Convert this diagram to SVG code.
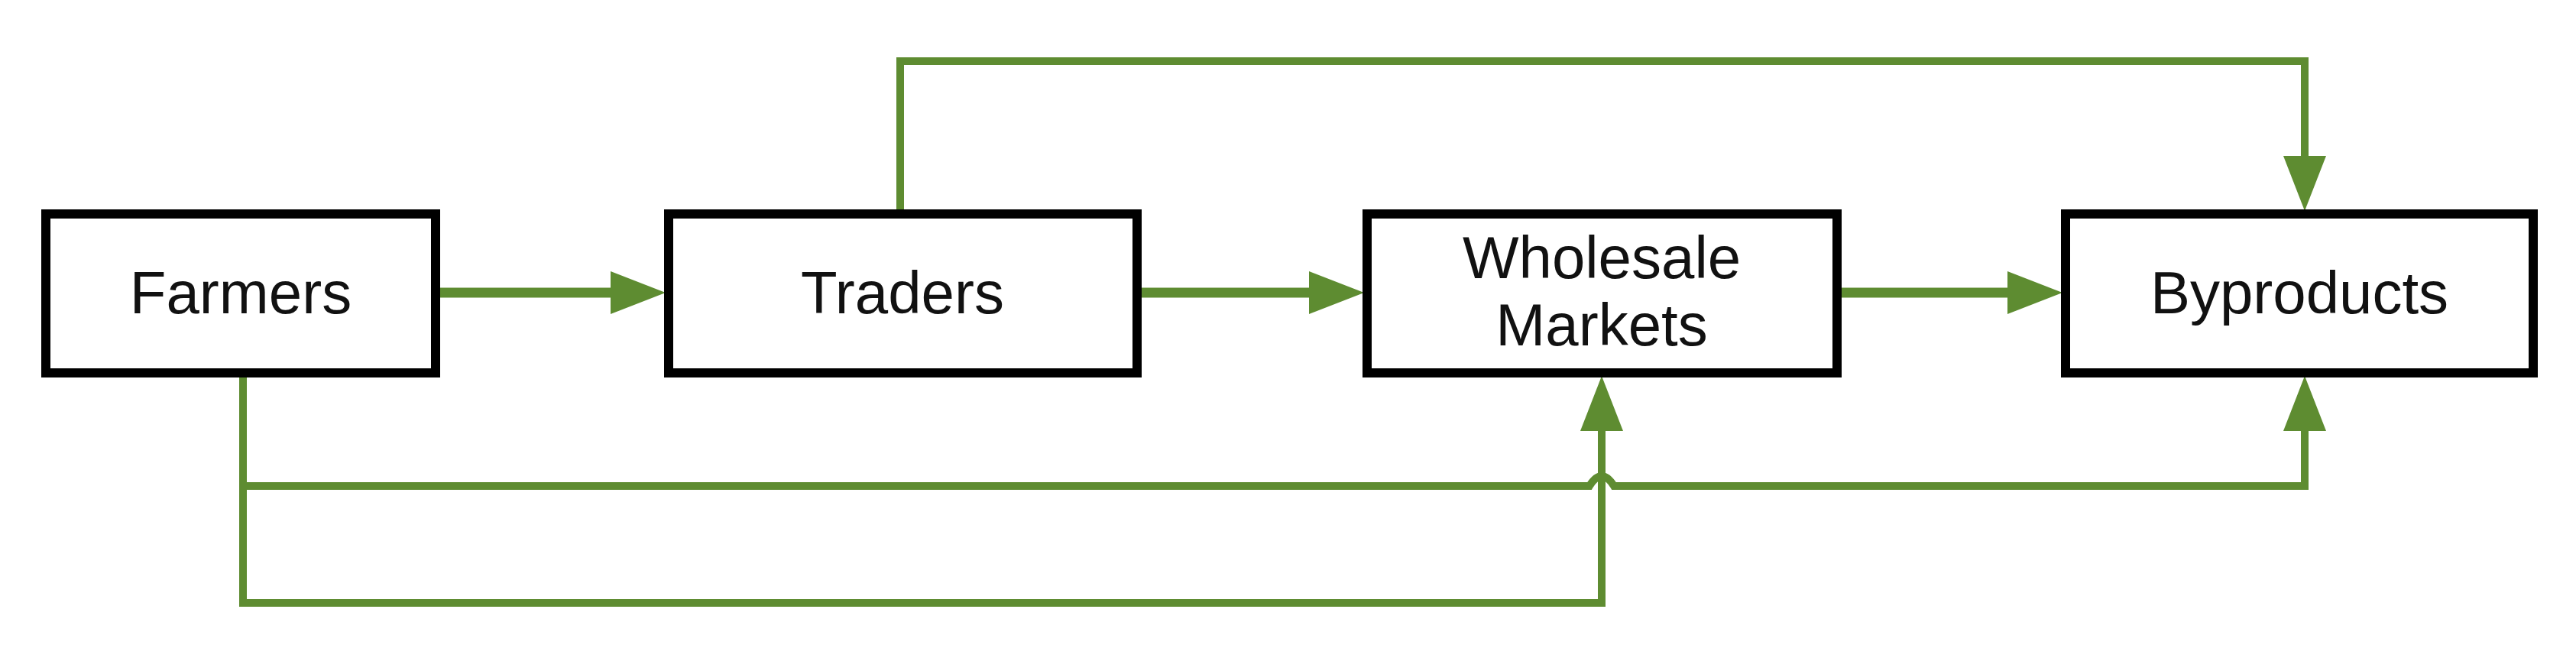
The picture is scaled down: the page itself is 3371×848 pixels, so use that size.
<svg xmlns="http://www.w3.org/2000/svg" width="3371" height="848" viewBox="0 0 3371 848">
<style>
.box{fill:#fff;stroke:#000;stroke-width:12}
.t{font-family:"Liberation Sans",Arial,sans-serif;font-size:78px;text-anchor:middle;fill:#111}
.c{fill:none;stroke:#5E8C31;stroke-width:10;stroke-linejoin:miter}
.m{stroke-width:13}
</style>
<defs>
<marker id="a" markerUnits="userSpaceOnUse" markerWidth="72" markerHeight="56" refX="40" refY="28" orient="auto">
<path d="M0,0 L72,28 L0,56 Z" fill="#5E8C31"/>
</marker>
</defs>
<rect width="3371" height="848" fill="#fff"/>
<g id="connectors">
<path class="c m" d="M570,383 H839" marker-end="url(#a)"/>
<path class="c m" d="M1488,383 H1753" marker-end="url(#a)"/>
<path class="c m" d="M2404,383 H2667" marker-end="url(#a)"/>
<path class="c" d="M1178,280 V80 H3016 V244" marker-end="url(#a)"/>
<path class="c" d="M318,488 V636 H2080 Q2096,610 2112,636 H3016 V524" marker-end="url(#a)"/>
<path class="c" d="M318,636 V789 H2096 V524" marker-end="url(#a)"/>
</g>
<g id="farmers"><rect class="box" x="60" y="280" width="510" height="208"/><text class="t" x="315" y="410">Farmers</text></g>
<g id="traders"><rect class="box" x="875" y="280" width="613" height="208"/><text class="t" x="1181" y="410">Traders</text></g>
<g id="wholesale"><rect class="box" x="1789" y="280" width="615" height="208"/><text class="t" x="2096" y="364">Wholesale</text><text class="t" x="2096" y="452">Markets</text></g>
<g id="byproducts"><rect class="box" x="2703" y="280" width="612" height="208"/><text class="t" x="3009" y="410">Byproducts</text></g>
</svg>
